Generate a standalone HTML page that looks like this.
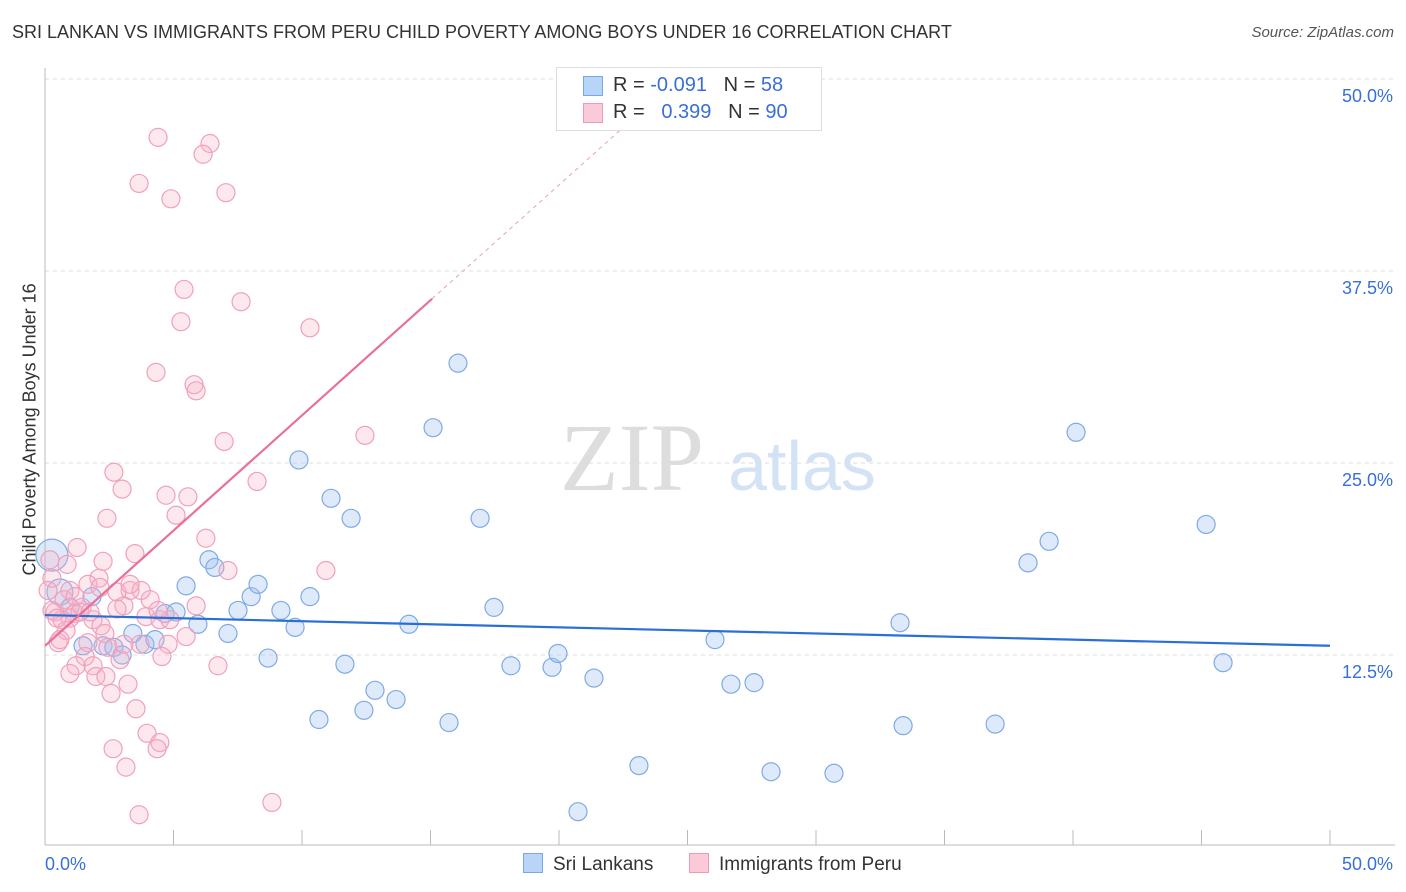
<!DOCTYPE html>
<html><head><meta charset="utf-8"><style>
body{margin:0;background:#fff;font-family:"Liberation Sans",sans-serif;}
#wrap{position:relative;width:1406px;height:892px;overflow:hidden}
.t{position:absolute;white-space:nowrap}
</style></head><body>
<div id="wrap">
<div class="t" style="left:12px;top:22px;font-size:18px;color:#333">SRI LANKAN VS IMMIGRANTS FROM PERU CHILD POVERTY AMONG BOYS UNDER 16 CORRELATION CHART</div>
<div class="t" style="right:12px;top:24px;font-size:15px;color:#555;font-style:italic">Source: ZipAtlas.com</div>
<div class="t" style="left:-90px;top:445px;font-size:18px;color:#333;transform:rotate(-90deg);width:240px;text-align:center">Child Poverty Among Boys Under 16</div>
<svg id="svg" width="1406" height="892" style="position:absolute;left:0;top:0"></svg>
<div class="t" style="left:556px;top:67px;width:264px;height:62px;border:1px solid #ddd;background:#fff;font-size:20px;color:#333">
<div style="position:absolute;left:26px;top:8px;width:18px;height:18px;background:#b8d4f6;border:1px solid #7aa8e6"></div>
<div class="t" style="left:56px;top:6px">R = <span style="color:#3a6fd8">-0.091</span>&nbsp;&nbsp;&nbsp;N = <span style="color:#3a6fd8">58</span></div>
<div style="position:absolute;left:26px;top:35px;width:18px;height:18px;background:#fbcad8;border:1px solid #f09ab6"></div>
<div class="t" style="left:56px;top:33px">R = &nbsp;&nbsp;<span style="color:#3a6fd8">0.399</span>&nbsp;&nbsp;&nbsp;N = <span style="color:#3a6fd8">90</span></div>
</div>
<div class="t" style="left:523px;top:853px;font-size:19px;color:#333"><span style="display:inline-block;width:18px;height:18px;background:#b8d4f6;border:1px solid #7aa8e6;vertical-align:-3px;margin-right:10px"></span>Sri Lankans</div>
<div class="t" style="left:689px;top:853px;font-size:19px;color:#333"><span style="display:inline-block;width:18px;height:18px;background:#fbcad8;border:1px solid #f09ab6;vertical-align:-3px;margin-right:10px"></span>Immigrants from Peru</div>
</div>
<script>
const yTicks=[12.5,25,37.5,50];
const yTickLabels=["12.5%","25.0%","37.5%","50.0%"];
const blueX=[0.27,0.58,0.97,1.83,1.48,2.26,2.68,3.0,3.42,3.89,4.28,4.67,5.10,5.49,5.95,6.38,6.61,7.12,7.51,8.02,8.29,8.68,9.18,9.73,9.88,10.31,10.66,11.13,11.67,11.91,12.41,12.84,13.66,14.16,15.10,15.72,16.07,16.93,17.47,18.13,19.73,19.96,20.74,21.36,23.11,26.07,26.69,27.59,28.25,30.70,33.27,33.39,36.97,38.25,39.07,40.12,45.18,45.84];
const blueY=[19.0,16.6,15.6,16.3,13.1,13.1,13.0,12.5,13.9,13.2,13.5,15.2,15.3,17.0,14.5,18.7,18.2,13.9,15.4,16.3,17.1,12.3,15.4,14.3,25.2,16.3,8.3,22.7,11.9,21.4,8.9,10.2,9.6,14.5,27.3,8.1,31.5,21.4,15.6,11.8,11.7,12.6,2.3,11.0,5.3,13.5,10.6,10.7,4.9,4.8,14.6,7.9,8.0,18.5,19.9,27.0,21.0,12.0];
const pinkX=[4.40,6.42,6.15,3.66,4.90,7.04,5.41,7.63,5.29,10.31,4.32,5.80,5.88,6.97,12.45,2.68,3.0,4.71,5.56,8.25,5.10,2.41,6.26,1.25,3.50,2.26,0.86,7.12,10.93,2.10,1.67,0.27,3.31,2.80,0.97,4.09,5.88,3.07,2.80,1.44,1.17,0.39,0.66,0.97,1.87,3.93,4.47,4.86,2.18,0.82,2.33,5.49,3.70,0.51,4.79,1.67,1.56,2.92,4.55,1.21,1.87,6.73,0.97,1.98,2.37,3.23,2.57,3.54,3.97,4.47,4.36,2.65,3.15,8.83,3.66,0.19,0.12,0.27,0.47,0.74,1.36,1.75,2.45,3.07,2.14,4.40,3.74,3.31,1.17,0.58];
const pinkY=[46.2,45.8,45.1,43.2,42.2,42.6,36.3,35.5,34.2,33.8,30.9,30.1,29.7,26.4,26.8,24.4,23.3,22.9,22.8,23.8,21.6,21.4,20.1,19.5,19.1,18.6,18.4,18.0,18.0,17.5,17.1,17.5,16.7,16.6,16.7,16.1,15.7,15.7,15.5,15.6,15.2,15.3,14.8,14.9,14.8,15.0,14.8,14.8,14.4,14.1,13.9,13.7,13.2,13.3,13.2,13.3,12.4,12.2,12.4,11.8,11.8,11.8,11.3,11.1,11.1,10.6,10.0,9.0,7.4,6.8,6.4,6.4,5.2,2.9,2.1,18.7,16.7,15.4,14.9,16.1,15.3,15.3,13.0,13.2,16.9,15.4,16.7,17.1,16.3,13.5];
const blueTrend=[15.1,13.1];
const pinkTrend=[13.1,1.50];
const X=v=>45+v/50*1285, Y=v=>847-v/12.5*192;
const svg=document.getElementById('svg');const NS='http://www.w3.org/2000/svg';
function mk(t,a,name){const e=document.createElementNS(NS,t);for(const k in a)e.setAttribute(k,a[k]);


svg.appendChild(e);return e;}
yTicks.forEach((v,i)=>{mk('line',{x1:45,x2:1395,y1:Y(v),y2:Y(v),stroke:'#ddd','stroke-dasharray':'4,4'},'gridline');
const t=mk('text',{x:1393,y:Y(v)+23,'text-anchor':'end','font-size':18,fill:'#3a6fd8','font-family':'Liberation Sans'},'y-tick-label');t.textContent=yTickLabels[i];});
mk('line',{x1:45,x2:45,y1:68,y2:845,stroke:'#bbb'},'y-axis');
mk('line',{x1:45,x2:1395,y1:845,y2:845,stroke:'#bbb'},'x-axis');
for(let i=0;i<=10;i++)mk('line',{x1:X(i*5),x2:X(i*5),y1:830,y2:845,stroke:'#bbb'},'x-tick');
[["0.0%",45,'start'],["50.0%",1393,'end']].forEach(a=>{const t=mk('text',{x:a[1],y:870,'text-anchor':a[2],'font-size':18,fill:'#3a6fd8','font-family':'Liberation Sans'},'x-tick-label');t.textContent=a[0];});
let w=mk('text',{x:632,y:490,'text-anchor':'middle','font-size':96,fill:'#ddd','font-family':'Liberation Serif'},'watermark-zip');w.textContent='ZIP';
w=mk('text',{x:802,y:490,'text-anchor':'middle','font-size':70,fill:'#d4e2f6','font-family':'Liberation Sans'},'watermark-atlas');w.textContent='atlas';
blueX.forEach((x,i)=>mk('circle',{cx:X(x),cy:Y(blueY[i]),r:i==0?16:(i==1?13:9),fill:'rgba(160,196,240,0.35)',stroke:'#7eaae6','stroke-width':1.2},'sri-lankan-point'));
pinkX.forEach((x,i)=>mk('circle',{cx:X(x),cy:Y(pinkY[i]),r:9,fill:'rgba(248,180,200,0.3)',stroke:'#f0a0bc','stroke-width':1.2},'peru-point'));
mk('line',{x1:X(0),x2:X(50),y1:Y(blueTrend[0]),y2:Y(blueTrend[0]+(blueTrend[1]-blueTrend[0])),stroke:'#2a6fd6','stroke-width':2.2},'sri-lankan-trendline');
const xe=15.06, xt=(50-pinkTrend[0])/pinkTrend[1];
mk('line',{x1:X(xe),x2:X(xt),y1:Y(pinkTrend[0]+pinkTrend[1]*xe),y2:Y(50),stroke:'#e8a0b8','stroke-width':1,'stroke-dasharray':'4,4'},'peru-trendline-extension');
mk('line',{x1:X(0),x2:X(xe),y1:Y(pinkTrend[0]),y2:Y(pinkTrend[0]+pinkTrend[1]*xe),stroke:'#e8709a','stroke-width':2.2},'peru-trendline');
</script>
</body></html>
